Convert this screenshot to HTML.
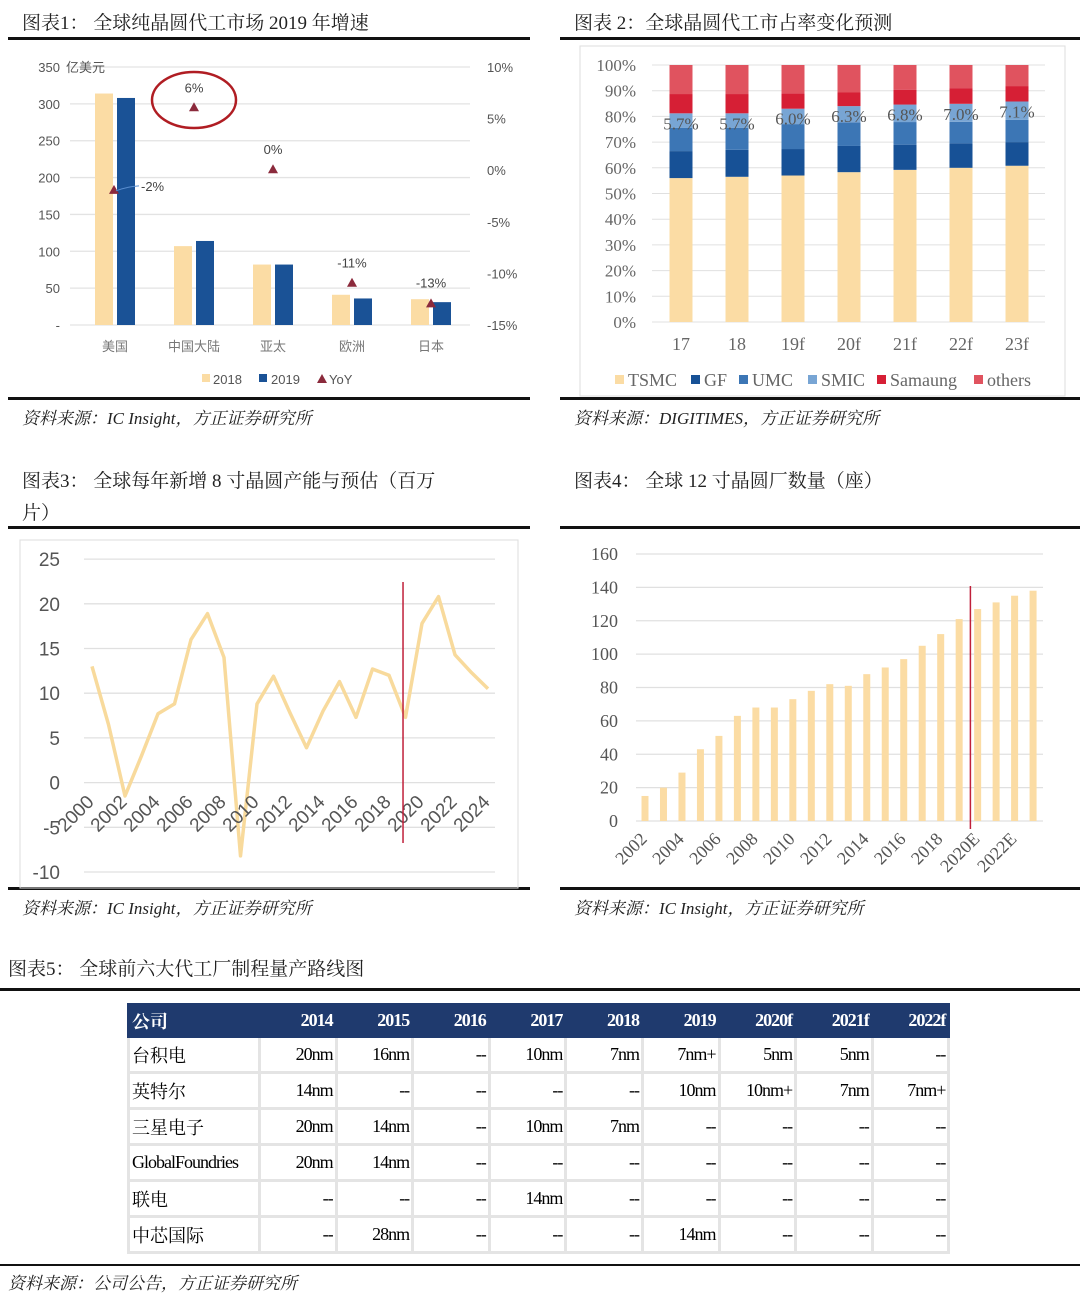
<!DOCTYPE html>
<html><head><meta charset="utf-8"><style>
body{margin:0;background:#fff;}
#wrap{position:relative;width:1080px;height:1293px;overflow:hidden;background:#fff;}
svg{position:absolute;left:0;top:0;}
.t{font-family:"Liberation Serif","Noto Serif CJK SC",serif;font-size:19px;fill:#222;}
.src{font-family:"Liberation Serif","Noto Serif CJK SC",serif;font-size:17px;font-style:italic;fill:#222;}
table{position:absolute;left:127px;top:1003px;width:821px;table-layout:fixed;border-collapse:collapse;font-family:"Liberation Serif","Noto Serif CJK SC",serif;font-size:18px;letter-spacing:-1px;}
td,th{border:3px solid #e4e4e4;height:33px;padding:0 2px;text-align:right;overflow:hidden;white-space:nowrap;}
th{background:#1f3a6e;color:#fff;font-weight:bold;border-color:#1f3a6e;height:29px;}
td:first-child,th:first-child{text-align:left;letter-spacing:0;}
</style></head><body><div id="wrap">
<svg id="s" width="1080" height="1293">
<g>
<text class="t" x="22" y="29">图表1：  全球纯晶圆代工市场 2019 年增速</text>
<rect x="8" y="37" width="522" height="3" fill="#111"/>
</g>
<g>
<text class="t" x="574" y="29">图表 2：全球晶圆代工市占率变化预测</text>
<rect x="560" y="37" width="520" height="3" fill="#111"/>
</g>
<rect x="8" y="397" width="522" height="3" fill="#111"/><rect x="560" y="397" width="520" height="3" fill="#111"/>
<text class="src" x="22" y="424">资料来源：IC Insight，方正证券研究所</text>
<text class="src" x="574" y="424">资料来源：DIGITIMES，方正证券研究所</text>
<g>
<text class="t" x="22" y="487">图表3：  全球每年新增 8 寸晶圆产能与预估（百万</text>
<text class="t" x="22" y="519">片）</text>
<rect x="8" y="526" width="522" height="3" fill="#111"/>
</g>
<g>
<text class="t" x="574" y="487">图表4：  全球 12 寸晶圆厂数量（座）</text>
<rect x="560" y="526" width="520" height="3" fill="#111"/>
</g>
<rect x="8" y="887" width="522" height="3" fill="#111"/><rect x="560" y="887" width="520" height="3" fill="#111"/>
<text class="src" x="22" y="914">资料来源：IC Insight，方正证券研究所</text>
<text class="src" x="574" y="914">资料来源：IC Insight，方正证券研究所</text>
<text class="t" x="8" y="975">图表5：  全球前六大代工厂制程量产路线图</text>
<rect x="0" y="988" width="1080" height="3" fill="#111"/>
<rect x="0" y="1264" width="1080" height="2" fill="#111"/>
<text class="src" x="8" y="1289">资料来源：公司公告，方正证券研究所</text>
<rect x="580" y="46" width="485" height="350" fill="none" stroke="#ddd"/>
<rect x="20" y="540" width="498" height="348" fill="none" stroke="#ddd"/>
<g id="c1"></g><g id="c2"></g><g id="c3"></g><g id="c4"></g>
</svg>
<table>
<colgroup><col style="width:131px"><col span="9" style="width:76.6px"></colgroup>
<tr><th>公司</th><th>2014</th><th>2015</th><th>2016</th><th>2017</th><th>2018</th><th>2019</th><th>2020f</th><th>2021f</th><th>2022f</th></tr>
<tr><td>台积电</td><td>20nm</td><td>16nm</td><td>--</td><td>10nm</td><td>7nm</td><td>7nm+</td><td>5nm</td><td>5nm</td><td>--</td></tr>
<tr><td>英特尔</td><td>14nm</td><td>--</td><td>--</td><td>--</td><td>--</td><td>10nm</td><td>10nm+</td><td>7nm</td><td>7nm+</td></tr>
<tr><td>三星电子</td><td>20nm</td><td>14nm</td><td>--</td><td>10nm</td><td>7nm</td><td>--</td><td>--</td><td>--</td><td>--</td></tr>
<tr><td style="letter-spacing:-1px">GlobalFoundries</td><td>20nm</td><td>14nm</td><td>--</td><td>--</td><td>--</td><td>--</td><td>--</td><td>--</td><td>--</td></tr>
<tr><td>联电</td><td>--</td><td>--</td><td>--</td><td>14nm</td><td>--</td><td>--</td><td>--</td><td>--</td><td>--</td></tr>
<tr><td>中芯国际</td><td>--</td><td>28nm</td><td>--</td><td>--</td><td>--</td><td>14nm</td><td>--</td><td>--</td><td>--</td></tr>
</table>
</div>
<script>
// ---- Chart 1 data
const c1Cats=["美国","中国大陆","亚太","欧洲","日本"];
const c1V2018=[314,107,82,41,35];
const c1V2019=[308,114,82,36,31];
const c1Yoy=[-2,6,0,-11,-13];
const c1LeftTicks=[0,50,100,150,200,250,300,350];
const c1RightTicks=[10,5,0,-5,-10,-15];
// ---- Chart 2 data
const c2Cats=["17","18","19f","20f","21f","22f","23f"];
const c2Tsmc=[56,56.5,57,58.3,59.2,60,60.8];
const c2Gf=[10.5,10.5,10.3,10.2,9.8,9.5,9.2];
const c2Umc=[9,8.5,9.7,9.2,8.8,8.4,8.7];
const c2Smic=[5.7,5.7,6.0,6.3,6.8,7.0,7.1];
const c2Samsung=[7.5,7.5,6,5.3,5.8,6.1,6];
const c2Others=[11.3,11.3,11,10.7,9.6,9,8.2];
const c2Ticks=[0,10,20,30,40,50,60,70,80,90,100];
// ---- Chart 3 data
const c3Years=[2000,2001,2002,2003,2004,2005,2006,2007,2008,2009,2010,2011,2012,2013,2014,2015,2016,2017,2018,2019,2020,2021,2022,2023,2024];
const c3Vals=[13,6.5,-1.5,3,7.7,8.8,16,18.9,14,-8.2,8.8,11.9,7.8,3.9,8,11.3,7.3,12.7,12,7.3,17.8,20.8,14.3,12.3,10.5];
const c3Ticks=[25,20,15,10,5,0,-5,-10];
// ---- Chart 4 data
const c4Cats=["2002","2003","2004","2005","2006","2007","2008","2009","2010","2011","2012","2013","2014","2015","2016","2017","2018","2019","2020E","2021E","2022E","2023E"];
const c4Vals=[15,20,29,43,51,63,68,68,73,78,82,81,88,92,97,105,112,121,127,131,135,138];
const c4Ticks=[0,20,40,60,80,100,120,140,160];

const NS="http://www.w3.org/2000/svg";
function mk(p,tag,a,txt){const e=document.createElementNS(NS,tag);for(const k in a)e.setAttribute(k,a[k]);if(txt!==undefined)e.textContent=txt;p.appendChild(e);return e;}
const SANS='"Liberation Sans","Noto Sans CJK SC",sans-serif';
const SERIF='"Liberation Serif","Noto Serif CJK SC",serif';

// Chart 1
(function(){
const g=document.getElementById('c1');
const yL=v=>325-v*(258/350), yR=v=>67+(10-v)*(258/25), xC=i=>115+i*79;
c1LeftTicks.forEach(t=>{
 const l=mk(g,'line',{x1:70,x2:470,y1:yL(t),y2:yL(t),stroke:'#e3e3e3','stroke-width':1.3});
 
 const tx=mk(g,'text',{x:60,y:yL(t)+5,'text-anchor':'end','font-family':SANS,'font-size':13,fill:'#555'},t===0?'-':(t===350?'350':String(t)));
 
});
mk(g,'text',{x:66,y:72,'font-family':SANS,'font-size':13,fill:'#555'},'亿美元');
c1RightTicks.forEach(t=>{
 const tx=mk(g,'text',{x:487,y:yR(t)+5,'font-family':SANS,'font-size':13,fill:'#555'},t+'%');
 
});
c1Cats.forEach((c,i)=>{
 const b1=mk(g,'rect',{x:xC(i)-20,y:yL(c1V2018[i]),width:18,height:325-yL(c1V2018[i]),fill:'#fbdca4'});
 
 const b2=mk(g,'rect',{x:xC(i)+2,y:yL(c1V2019[i]),width:18,height:325-yL(c1V2019[i]),fill:'#1a5296'});
 
 const lb=mk(g,'text',{x:xC(i),y:351,'text-anchor':'middle','font-family':SANS,'font-size':13,fill:'#777'},c);
 
 const y=yR(c1Yoy[i]),x=xC(i)-(i===0?1:0);
 const tr=mk(g,'path',{d:`M${x},${y-6}L${x+5},${y+3}L${x-5},${y+3}Z`,fill:'#8b2a3c'});
 
 const lx=i===0?x+28:x, ly=i===0?y+1:(i===4?y-17:y-16);
 const yl=mk(g,'text',{x:lx,y:ly,'text-anchor':i===0?'start':'middle','font-family':SANS,'font-size':13,fill:'#444'},c1Yoy[i]+'%');
 if(i===0){yl.setAttribute('x',x+27);yl.setAttribute('y',y);mk(g,'path',{d:`M${x+2},${y}Q${x+12},${y-4} ${x+25},${y-5}`,stroke:'#5b8fd0',fill:'none'});}
 
});
const el=mk(g,'ellipse',{cx:194,cy:100,rx:42,ry:28,fill:'none',stroke:'#b01d23','stroke-width':2.5});

const lg=mk(g,'g',{});
mk(lg,'rect',{x:202,y:374,width:8,height:8,fill:'#fbdca4'});mk(lg,'text',{x:213,y:384,'font-family':SANS,'font-size':13,fill:'#555'},'2018');
mk(lg,'rect',{x:259,y:374,width:8,height:8,fill:'#1a5296'});mk(lg,'text',{x:271,y:384,'font-family':SANS,'font-size':13,fill:'#555'},'2019');
mk(lg,'path',{d:'M322,374L327,383L317,383Z',fill:'#8b2a3c'});mk(lg,'text',{x:329,y:384,'font-family':SANS,'font-size':13,fill:'#555'},'YoY');
})();

// Chart 2
(function(){
const g=document.getElementById('c2');
const y=v=>322-v*2.57, xC=i=>681+i*56;
c2Ticks.forEach(t=>{
 const l=mk(g,'line',{x1:652,x2:1045,y1:y(t),y2:y(t),stroke:'#e0e0e0'});
 
 const tx=mk(g,'text',{x:636,y:y(t)+6,'text-anchor':'end','font-family':SERIF,'font-size':17,fill:'#666'},t+'%');
 
});
const series=[c2Tsmc,c2Gf,c2Umc,c2Smic,c2Samsung,c2Others];
const cols=['#fbdca4','#175196','#3c76b5','#78a5d4','#d61f35','#e0535f'];
const names=['c2-seg-tsmc','c2-seg-gf','c2-seg-umc','c2-seg-smic','c2-seg-samsung','c2-seg-others'];
c2Cats.forEach((c,i)=>{
 let acc=0;
 series.forEach((s,k)=>{
  let v=s[i]; if(k===5) v=100-acc;
  const r=mk(g,'rect',{x:xC(i)-11.5,y:y(acc+v),width:23,height:v*2.57,fill:cols[k]});
  
  acc+=v;
 });
 const smTop=c2Tsmc[i]+c2Gf[i]+c2Umc[i]+c2Smic[i];
 const lb=mk(g,'text',{x:xC(i),y:y(smTop)+16,'text-anchor':'middle','font-family':SERIF,'font-size':17,fill:'#555'},c2Smic[i].toFixed(1)+'%');
 
 const xl=mk(g,'text',{x:xC(i),y:350,'text-anchor':'middle','font-family':SERIF,'font-size':18,fill:'#666'},c);
 
});
const lg=mk(g,'g',{});
const items=[['TSMC',615],['GF',691],['UMC',739],['SMIC',808],['Samaung',877],['others',974]];
items.forEach((it,k)=>{mk(lg,'rect',{x:it[1],y:375,width:9,height:9,fill:cols[k]});mk(lg,'text',{x:it[1]+13,y:386,'font-family':SERIF,'font-size':18,fill:'#666'},it[0]);});
})();

// Chart 3
(function(){
const g=document.getElementById('c3');
const y=v=>782.6-v*8.94, x=yr=>92+(yr-2000)*16.5;
c3Ticks.forEach(t=>{
 const l=mk(g,'line',{x1:84,x2:495,y1:y(t),y2:y(t),stroke:'#e0e0e0','stroke-width':1.3});
 
 const tx=mk(g,'text',{x:60,y:y(t)+7,'text-anchor':'end','font-family':SANS,'font-size':19,fill:'#555'},String(t));
 
});
const d=c3Years.map((yr,i)=>(i?'L':'M')+x(yr)+','+y(c3Vals[i])).join('');
const p=mk(g,'path',{d:d,fill:'none',stroke:'#f8da9c','stroke-width':3.5,'stroke-linejoin':'round'});

c3Years.forEach(yr=>{ if(yr%2) return;
 const ax=x(yr)+3, ay=803;
 const tx=mk(g,'text',{x:ax,y:ay,'text-anchor':'end','font-family':SANS,'font-size':19,fill:'#555',transform:`rotate(-45 ${ax} ${ay})`},String(yr));
 
});
const rl=mk(g,'line',{x1:x(2018.85),x2:x(2018.85),y1:582,y2:843,stroke:'#c0203a','stroke-width':1.5});

})();

// Chart 4
(function(){
const g=document.getElementById('c4');
const y=v=>821-v*(267/160), x=i=>645+i*18.48;
c4Ticks.forEach(t=>{
 const l=mk(g,'line',{x1:636,x2:1043,y1:y(t),y2:y(t),stroke:'#e0e0e0','stroke-width':1.3});
 
 const tx=mk(g,'text',{x:618,y:y(t)+6,'text-anchor':'end','font-family':SERIF,'font-size':18,fill:'#555'},String(t));
 
});
c4Cats.forEach((c,i)=>{
 const b=mk(g,'rect',{x:x(i)-3.5,y:y(c4Vals[i]),width:7,height:821-y(c4Vals[i]),fill:'#fbdca4'});
 
 if(i%2===0){
  const ax=x(i)+3, ay=840;
  const tx=mk(g,'text',{x:ax,y:ay,'text-anchor':'end','font-family':SERIF,'font-size':18,fill:'#555',transform:`rotate(-45 ${ax} ${ay})`},c);
  
 }
});
const rl=mk(g,'line',{x1:x(17.5)+2,x2:x(17.5)+2,y1:586,y2:829,stroke:'#c0203a','stroke-width':1.5});

})();
</script>
</body></html>
